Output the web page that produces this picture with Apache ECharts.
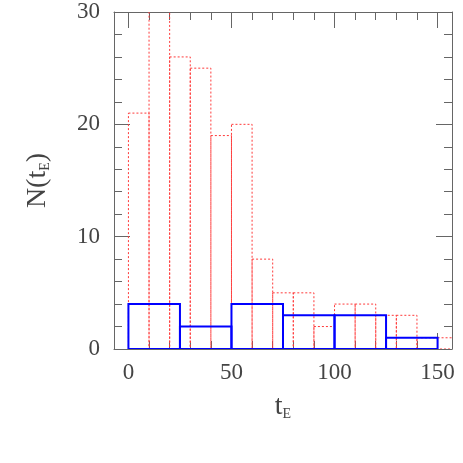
<!DOCTYPE html>
<html>
<head>
<meta charset="utf-8">
<script src="https://cdn.jsdelivr.net/npm/echarts@6/dist/echarts.min.js"></script>
<style>html,body{margin:0;padding:0;background:#fff}#c{width:463px;height:463px}</style>
</head>
<body>
<div id="c"></div>
<script>
// Red dotted histogram: bin edges (width 10) and counts
var redEdges = [0,10,20,30,40,50,60,70,80,90,100,110,120,130,140,150,160];
var redCounts = [21,32,26,25,19,20,8,5,5,2,4,4,3,3,1,1];
// Blue solid histogram: bin edges (width 25) and counts
var blueEdges = [0,25,50,75,100,125,150];
var blueCounts = [4,2,4,3,3,1];
// Axis ticks and labels
var xMinorTicks = [0,10,20,30,40,50,60,70,80,90,100,110,120,130,140,150];
var xMajorTicks = [0,50,100,150];
var xLabels = [0,50,100,150];
var yMajorTicks = [0,10,20,30];
var yLabels = [0,10,20,30];

function bins(edges, counts){
  var out = [];
  for (var i = 0; i < counts.length; i++) out.push([edges[i], edges[i+1], counts[i]]);
  return out;
}

var FONT = 'Liberation Serif';
var AX = '#666';
var TXT = '#444';

function rectRender(stroke, width, dash){
  return function(params, api){
    var p0 = api.coord([api.value(0), api.value(2)]);
    var p1 = api.coord([api.value(1), 0]);
    return {
      type: 'rect',
      shape: {x: p0[0], y: p0[1], width: p1[0]-p0[0], height: p1[1]-p0[1]},
      style: {fill: 'none', stroke: stroke, lineWidth: width, lineDash: dash}
    };
  };
}

function xAx(pos, ticks, len, labels, showLine){
  return {
    type: 'value', position: pos, min: -7, max: 157, gridIndex: 0,
    axisLine: {show: showLine, onZero: false, lineStyle: {color: AX, width: 1}},
    axisTick: {show: true, inside: true, length: len, customValues: ticks, lineStyle: {color: AX, width: 1}},
    axisLabel: labels ? {show: true, customValues: labels, fontFamily: FONT, fontSize: 23, color: TXT, margin: 12} : {show: false},
    splitLine: {show: false}
  };
}
function yAx(pos, ticks, len, labels, showLine, interval){
  var a = {
    type: 'value', position: pos, min: 0, max: 30, gridIndex: 0,
    axisLine: {show: showLine, onZero: false, lineStyle: {color: AX, width: 1}},
    axisTick: {show: true, inside: true, length: len, lineStyle: {color: AX, width: 1}},
    axisLabel: labels ? {show: true, customValues: labels, fontFamily: FONT, fontSize: 23, color: TXT, margin: 14} : {show: false},
    splitLine: {show: false}
  };
  if (interval) a.interval = interval; else a.axisTick.customValues = ticks;
  return a;
}

var xAxes = [
  xAx('bottom', xMinorTicks, 8, xLabels, true),
  xAx('bottom', xMajorTicks, 16, null, false),
  xAx('top', xMinorTicks, 8, null, true),
  xAx('top', xMajorTicks, 16, null, false)
];
xAxes[0].name = 't{s|E}';
xAxes[0].nameLocation = 'middle';
xAxes[0].nameGap = 44;
xAxes[0].nameTextStyle = {fontFamily: FONT, fontSize: 28, color: TXT,
  rich: {s: {fontFamily: FONT, fontSize: 14, color: TXT, verticalAlign: 'bottom', lineHeight: 8}}};

var yAxes = [
  yAx('left', null, 8, yLabels, true, 2),
  yAx('left', yMajorTicks, 16, null, false),
  yAx('right', null, 8, null, true, 2),
  yAx('right', yMajorTicks, 16, null, false)
];
yAxes[0].name = 'N(t{s|E})';
yAxes[0].nameLocation = 'middle';
yAxes[0].nameGap = 62;
yAxes[0].nameRotate = 90;
yAxes[0].nameTextStyle = {fontFamily: FONT, fontSize: 28, color: TXT,
  rich: {s: {fontFamily: FONT, fontSize: 14, color: TXT, verticalAlign: 'bottom', lineHeight: 8}}};

var chart = echarts.init(document.getElementById('c'), null, {renderer: 'canvas'});
chart.setOption({
  animation: false,
  backgroundColor: '#fff',
  grid: {left: 114, right: 11, top: 12, bottom: 114, containLabel: false},
  xAxis: xAxes,
  yAxis: yAxes,
  series: [
    {type: 'custom', xAxisIndex: 0, yAxisIndex: 0, clip: true, data: bins(redEdges, redCounts),
     renderItem: rectRender('#ff3a3a', 1, [2, 2]), encode: {x: [0, 1], y: 2}},
    {type: 'custom', xAxisIndex: 0, yAxisIndex: 0, clip: true, data: bins(blueEdges, blueCounts),
     renderItem: rectRender('#0000ff', 2, null), encode: {x: [0, 1], y: 2}}
  ]
});
</script>
</body>
</html>
